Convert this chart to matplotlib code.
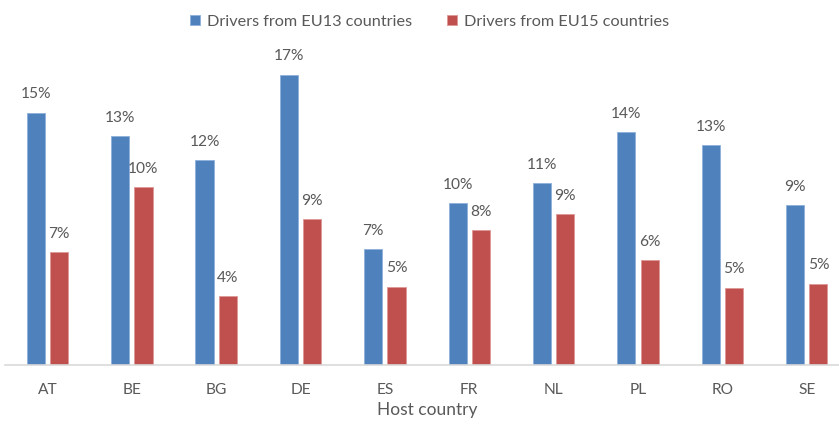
import matplotlib.pyplot as plt
import numpy as np

plt.rcParams['font.family'] = ['Lato', 'DejaVu Sans']

countries = ['AT', 'BE', 'BG', 'DE', 'ES', 'FR', 'NL', 'PL', 'RO', 'SE']
eu13 = [0.1487, 0.1348, 0.1205, 0.1711, 0.0681, 0.0955, 0.1069, 0.1373, 0.1295, 0.0941]
eu15 = [0.0661, 0.1045, 0.0404, 0.0858, 0.0460, 0.0792, 0.0886, 0.0614, 0.0454, 0.0478]

text_color = '#595959'

fig = plt.figure(figsize=(8.39, 4.25), dpi=100)
ax = fig.add_axes([5.3 / 839, 60.5 / 425, 1 - 5.3 / 839, 305 / 425])

x = np.arange(len(countries))
offset = 0.138
width = 0.215
bars1 = ax.bar(x - offset, eu13, width, color='#4F81BD', edgecolor='#8DB0DA', linewidth=0.6,
               label='Drivers from EU13 countries')
bars2 = ax.bar(x + offset, eu15, width, color='#C0504D', edgecolor='#DD9896', linewidth=0.6,
               label='Drivers from EU15 countries')

for bars in (bars1, bars2):
    for rect in bars:
        h = rect.get_height()
        ax.annotate(f'{h:.0%}',
                    xy=(rect.get_x() + rect.get_width() / 2, h),
                    xytext=(0, 8), textcoords='offset points',
                    ha='center', va='bottom', fontsize=11.2, color=text_color)

ax.set_xlim(-0.5, 9.383)
ax.set_ylim(0, 0.18)
ax.set_xticks(x)
ax.set_xticklabels(countries, fontsize=11.2, color=text_color)
ax.tick_params(axis='x', length=0, pad=13)
ax.set_yticks([])
for side in ['top', 'right', 'left']:
    ax.spines[side].set_visible(False)
ax.spines['bottom'].set_color('#D9D9D9')
ax.spines['bottom'].set_linewidth(1.2)
ax.set_xlabel('Host country', fontsize=12.5, color=text_color)
ax.xaxis.set_label_coords((427 - 5.3) / (839 - 5.3), -38 / 305)

fig.legend(loc='upper center', bbox_to_anchor=(0.512, 1.0), ncol=2, frameon=False,
           fontsize=11.7, labelcolor=text_color, handlelength=0.6, handleheight=0.6,
           handletextpad=0.4, columnspacing=2.2)

plt.savefig('out.png', dpi=100)
